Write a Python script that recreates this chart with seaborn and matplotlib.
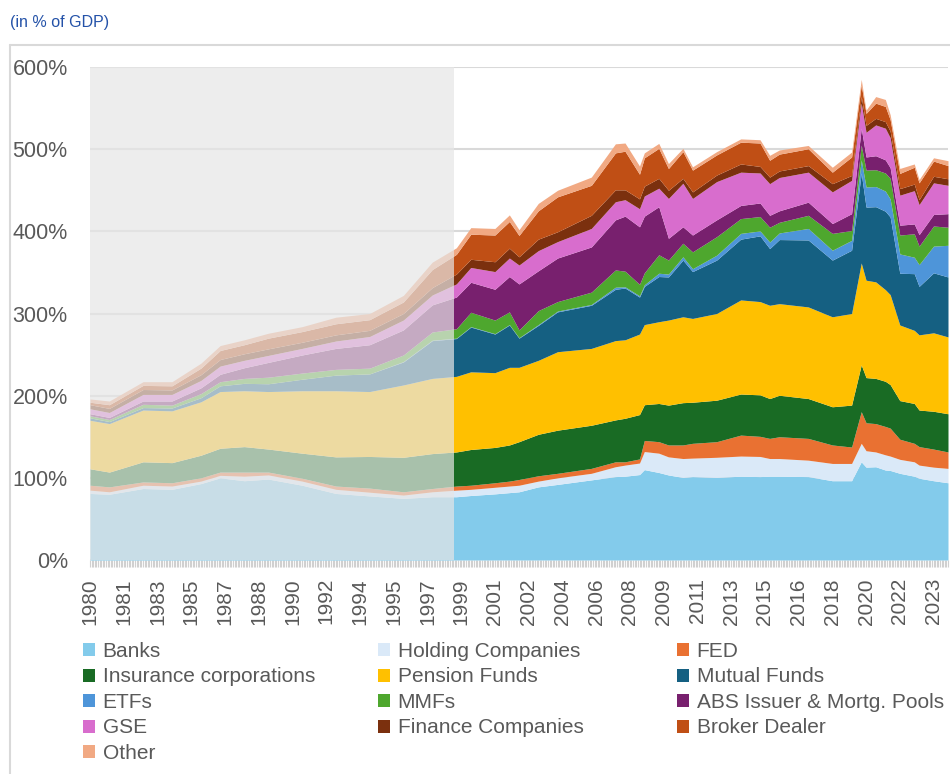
import numpy as np
import pandas as pd
import matplotlib
matplotlib.use("Agg")
import matplotlib.pyplot as plt
import seaborn as sns
from matplotlib.patches import Patch
from matplotlib.lines import Line2D
from matplotlib.ticker import FuncFormatter, FixedLocator

# ---------------- data (% of GDP) ----------------
quarters = ["1980Q1", "1981Q1", "1982Q4", "1984Q2", "1985Q4", "1986Q4", "1988Q1", "1989Q2",
            "1991Q1", "1992Q4", "1994Q3", "1996Q2", "1997Q4", "1999Q1", "1999Q4", "2001Q1",
            "2001Q4", "2002Q2", "2003Q2", "2004Q2", "2006Q1", "2007Q2", "2007Q4", "2008Q3",
            "2008Q4", "2009Q3", "2010Q1", "2010Q4", "2011Q2", "2012Q3", "2013Q4", "2014Q4",
            "2015Q2", "2015Q4", "2017Q2", "2018Q3", "2019Q3", "2020Q1", "2020Q2", "2020Q4",
            "2021Q2", "2021Q3", "2022Q1", "2022Q4", "2023Q1", "2023Q4", "2024Q3"]

banks = [81, 80, 87, 86, 93, 100, 96.5, 98.5, 91, 81, 78, 75, 77, 77, 78.5, 80.5, 82, 83, 89, 92,
         97.5, 101.5, 102, 104, 110, 106.5, 103.5, 100.5, 101.5, 100.5, 102, 101.5, 102, 102,
         101.5, 96.5, 96.5, 119.5, 113, 113.5, 109.5, 109, 105.5, 102, 99.5, 96.5, 94]
holding = [4, 3, 4, 4, 3, 3, 5.5, 5, 5, 5, 4.5, 4, 6, 8, 7.5, 8, 8, 8, 7, 8, 8,
           12, 13.5, 14, 22, 23.5, 22, 23, 22.5, 24.5, 24.5, 24.5, 21.5, 21.5, 20, 21, 21, 22.5,
           20, 18, 18.5, 17.5, 17, 17.5, 16, 16.5, 17.5]
fed = [6, 6, 4, 4, 4, 4, 5, 3.5, 3.5, 4, 5, 4, 4, 5, 5, 5.5, 6, 7, 6.5, 5.5, 6,
       6, 4, 5, 13.5, 14, 14.5, 16.5, 18, 19, 25.5, 24.5, 24.5, 26.5, 26.5, 22.5, 20, 38.5, 34,
       34.5, 34.5, 34, 24.5, 22.5, 22.5, 22, 20]
insurance = [20, 18, 24.5, 24.5, 27.5, 29, 31, 28, 30.5, 35.5, 38.5, 42, 42.5, 41.5, 43.5, 43,
             44, 46, 50.5, 52.5, 52.5, 51, 53, 54, 43.5, 46.5, 48.5, 51.5, 50, 50.5, 50, 50.5,
             48.5, 50.5, 48.5, 46.5, 51, 57, 55, 55, 55, 53, 47, 48.5, 44.5, 46, 46.5]
pension = [59, 59, 63, 63, 65, 69, 68, 70, 76, 80.5, 79, 88, 91.5, 92, 94.5, 91, 94.5, 90.5, 90,
           95.5, 93.5, 96.5, 95.5, 98, 97.5, 99.5, 103.5, 104.5, 102, 105.5, 114.5, 113.5, 113.5,
           111.5, 111.5, 109.5, 111.5, 124, 118.5, 117.5, 111.5, 109.5, 92, 89, 91.5, 95.5, 93.5]
mutual = [3, 2.5, 3, 3.5, 5, 7, 9, 9.5, 14, 19, 21.5, 28, 46, 46, 54.5, 47, 51.5, 35.5, 42.5,
          48.5, 52.5, 62.5, 63, 45, 46.5, 55, 52.5, 69, 57, 65, 74, 80, 69, 78, 81.5, 69, 77,
          109.5, 89, 91.5, 95.5, 94.5, 63, 69, 59, 73, 73]
etfs = [0, 0, 0, 0, 0, 0, 0, 0, 0, 0, 0, 0.5, 0.5, 0.5, 0.5, 0.5, 0.5, 0.5, 1, 1, 1,
        2.5, 1.5, 1.5, 2, 4, 3.5, 4, 3.5, 6, 7, 6, 8, 8, 14, 12, 12, 16, 24.5, 24.5, 24.5,
        22, 23.5, 20, 26.5, 32.5, 38.5]
mmfs = [2.5, 2.5, 4, 3.5, 5, 5, 6, 8, 7.5, 7, 7, 8, 10, 11.5, 17.5, 16.5, 15.5, 9.5, 17, 11.5,
        15, 21, 19, 14, 14.5, 22.5, 17, 16.5, 20.5, 22.5, 18, 17.5, 18, 13, 16, 20.5, 12, 18,
        20.5, 20.5, 22, 25, 23, 28.5, 22.5, 24.5, 22]
abs_pools = [2.5, 2.5, 4, 5, 7, 9, 13, 18, 22, 25.5, 28.5, 30.5, 33, 38.5, 36.5, 37.5, 43, 56,
             48.5, 53, 55, 61, 67, 70, 69, 58.5, 26.5, 20, 20.5, 20.5, 16, 16.5, 14.5, 14, 16,
             12, 20.5, 20.5, 16, 17, 16, 13, 12, 12, 14, 14, 16.5]
gse = [6, 6, 8, 8, 9, 10, 9, 8.5, 8, 9, 10, 12, 12, 16, 18, 21.5, 22.5, 23, 24.5, 20, 22.5,
       22, 20, 22, 24.5, 22.5, 48.5, 53, 44.5, 46.5, 40.5, 36.5, 38.5, 40.5, 36.5, 38.5, 40.5,
       30.5, 30, 37.5, 38.5, 36.5, 36.5, 40.5, 36.5, 38.5, 34.5]
finance = [5, 5, 6, 5.5, 7, 8, 8, 8, 7.5, 7.5, 7.5, 8, 9, 12, 10, 12, 12, 10, 14, 12, 16,
           14.5, 12, 12, 12, 12, 10, 6, 8, 8, 10, 8, 8, 8, 8, 10, 6, 8, 8.5, 8, 8, 8, 8, 8, 6,
           8, 8]
broker = [3, 4.5, 5, 5, 8, 11, 11, 13, 13, 13.5, 13, 14, 22, 24, 30.5, 32.5, 32.5, 26, 34.5,
          42.5, 36.5, 45, 47, 30, 34.5, 36.5, 26.5, 32.5, 26.5, 24.5, 26.5, 28.5, 20.5, 20.5,
          20.5, 14, 22.5, 14, 14.5, 18.5, 18.5, 14, 18.5, 20.5, 20.5, 18.5, 16]
other = [4, 4.5, 4.5, 5, 6, 6, 6, 6, 6, 8, 7.5, 8, 9, 8, 8, 8, 8, 7, 9, 8, 10,
         11, 10, 10, 6, 6, 6, 4, 4, 4, 4, 4, 6, 5, 4, 6, 6, 7, 4, 8, 8.5, 6, 6, 4, 4, 4, 6]

series_names = ["Banks", "Holding Companies", "FED", "Insurance corporations", "Pension Funds",
                "Mutual Funds", "ETFs", "MMFs", "ABS Issuer & Mortg. Pools", "GSE",
                "Finance Companies", "Broker Dealer", "Other"]
series_values = [banks, holding, fed, insurance, pension, mutual, etfs, mmfs, abs_pools, gse,
                 finance, broker, other]
series_colors = ["#83CBEB", "#DAE9F8", "#E97132", "#196B24", "#FFC000", "#156082", "#4E95D9",
                 "#4EA72E", "#78206E", "#D86DCD", "#7B300E", "#C04F15", "#F1A983"]

# ---------------- styling ----------------
sns.set_theme(style="white")
plt.rcParams["font.family"] = ["Liberation Sans", "DejaVu Sans"]
TXT = "#595959"


def q_index(q):
    return (int(q[:4]) - 1980) * 4 + int(q[-1]) - 1


df = pd.DataFrame(dict(zip(series_names, series_values)))
df["idx"] = [q_index(q) for q in quarters]
palette = sns.color_palette(series_colors)

fig = plt.figure(figsize=(9.5, 7.74), dpi=100)
ax = fig.add_axes([90 / 950, 1 - 560 / 774, 858 / 950, 493 / 774])

ax.stackplot(df["idx"], [df[n] for n in series_names], colors=palette,
             linewidth=0, zorder=2)

last_idx = q_index("2024Q3")
ax.set_xlim(0, last_idx)
ax.set_ylim(0, 600)

# y axis
ax.yaxis.set_major_locator(FixedLocator(range(0, 601, 100)))
ax.yaxis.set_major_formatter(FuncFormatter(lambda v, p: f"{int(v)}%"))
ax.grid(axis="y", color="#D9D9D9", lw=1.5, zorder=0)
ax.grid(axis="x", visible=False)
ax.set_axisbelow(True)
ax.tick_params(axis="y", length=0, pad=16, labelsize=15.5, labelcolor=TXT)

# x axis: label every 7 quarters, fine tick marks along the axis
major = list(range(0, last_idx + 1, 7))
ax.xaxis.set_major_locator(FixedLocator(major))
ax.set_xticklabels([str(1980 + i // 4) for i in major], rotation=90)
ax.xaxis.set_minor_locator(FixedLocator(np.arange(0, last_idx + 0.01, 1 / 3)))
ax.tick_params(axis="x", which="both", bottom=True, direction="out", length=5,
               width=0.8, color="#D0D0D0", labelsize=15, labelcolor=TXT, pad=8)

for s in ax.spines.values():
    s.set_visible(False)

# shaded historical period
ax.axvspan(0, 75.5, color=(230 / 255, 230 / 255, 230 / 255), alpha=0.7, lw=0, zorder=3)

# title
fig.text(10 / 950, 1 - 22 / 774, "(in % of GDP)", fontsize=11.5, color="#2452A8",
         va="center", ha="left")

# chart frame (left and top)
fig.add_artist(Line2D([10 / 950, 10 / 950], [0, 1 - 45 / 774], transform=fig.transFigure,
                      color="#D9D9D9", lw=1.5))
fig.add_artist(Line2D([10 / 950, 1], [1 - 45 / 774, 1 - 45 / 774], transform=fig.transFigure,
                      color="#D9D9D9", lw=1.5))

# legend in three columns, row-wise order as in the reference
handles = {n: Patch(facecolor=c, edgecolor="none") for n, c in zip(series_names, series_colors)}
columns = [series_names[0::3], series_names[1::3], series_names[2::3]]
col_x = [83, 378, 677]
for names, x in zip(columns, col_x):
    fig.legend([handles[n] for n in names], names, loc="upper left",
               bbox_to_anchor=(x / 950, 1 - 642 / 774), frameon=False,
               fontsize=15, handlelength=0.58, handleheight=0.58,
               handletextpad=0.36, labelspacing=0.31, borderpad=0,
               borderaxespad=0, labelcolor=TXT)

fig.savefig("out.png", dpi=100)
